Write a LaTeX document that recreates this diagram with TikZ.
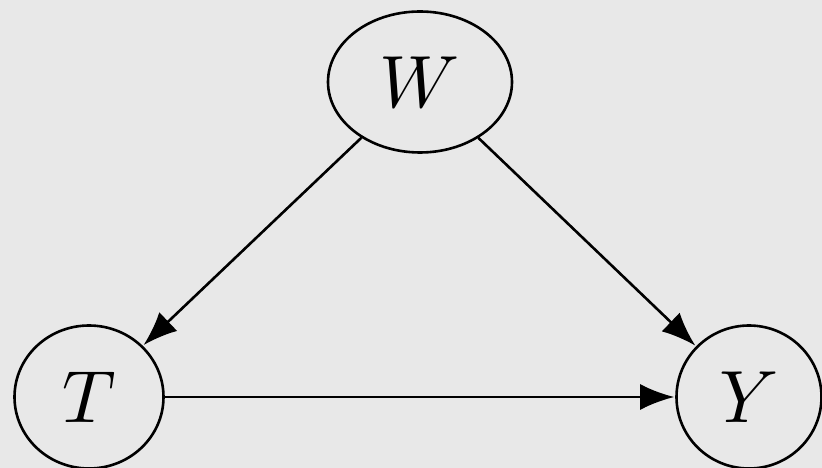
\documentclass[tikz,border=0pt]{standalone}
\usepackage{graphicx}
\usetikzlibrary{shapes.geometric,arrows.meta}
\definecolor{bggray}{HTML}{E8E8E8}
\newcommand{\bigvar}[1]{\scalebox{7.4}{$#1$}}
\begin{document}
\begin{tikzpicture}[x=1pt,y=1pt,
  var/.style={draw=black,line width=2.6pt,ellipse,inner sep=0pt},
  edge/.style={line width=2.6pt,-{Latex[length=34pt,width=26pt]},shorten >=1pt}]
\fill[bggray] (0,0) rectangle (822,468);
\useasboundingbox (0,0) rectangle (822,468);
\node[var,minimum width=184pt,minimum height=141pt] (W) at (420,386) {\bigvar{W}};
\node[var,minimum width=149pt,minimum height=143pt] (T) at (89,71) {\bigvar{T}};
\node[var,minimum width=145pt,minimum height=143pt] (Y) at (749,71) {\bigvar{Y}};
\draw[edge] (W) -- (T);
\draw[edge] (W) -- (Y);
\draw[edge] (T) -- (Y);
\end{tikzpicture}
\end{document}
